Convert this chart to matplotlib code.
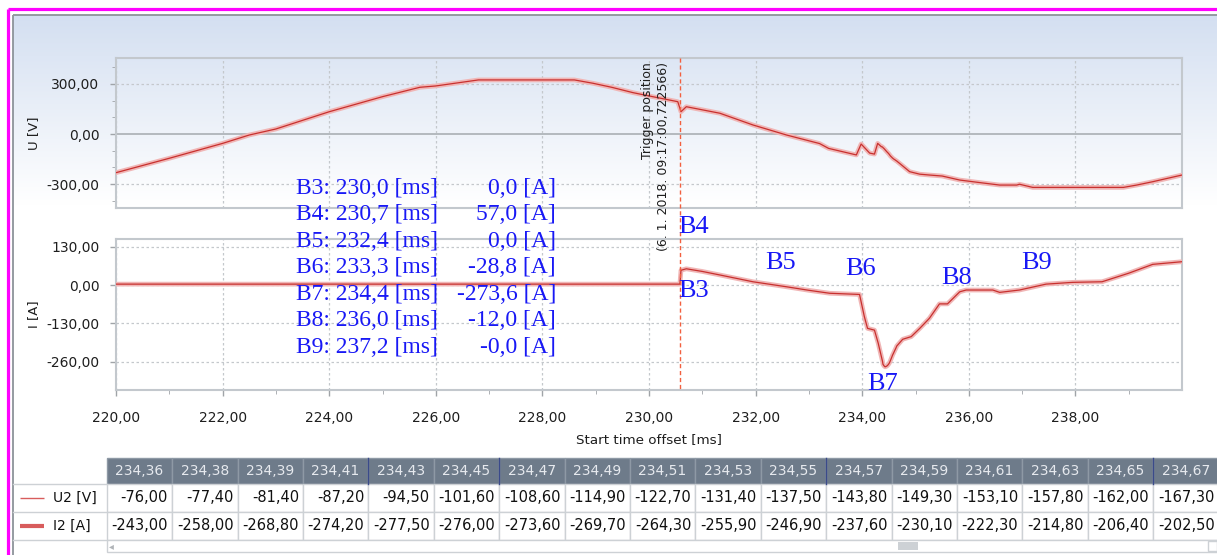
import numpy as np
import matplotlib.pyplot as plt
from matplotlib.ticker import FuncFormatter
from matplotlib.patches import Rectangle

# --- data ---
# table samples (around the current minimum)
table_t = [234.36, 234.38, 234.39, 234.41, 234.43, 234.45, 234.47, 234.49, 234.51,
           234.53, 234.55, 234.57, 234.59, 234.61, 234.63, 234.65, 234.67]
table_u = [-76.00, -77.40, -81.40, -87.20, -94.50, -101.60, -108.60, -114.90, -122.70,
           -131.40, -137.50, -143.80, -149.30, -153.10, -157.80, -162.00, -167.30]
table_i = [-243.00, -258.00, -268.80, -274.20, -277.50, -276.00, -273.60, -269.70, -264.30,
           -255.90, -246.90, -237.60, -230.10, -222.30, -214.80, -206.40, -202.50]

# voltage U2 [V]
u_t_before = [220.0, 221.0, 222.0, 222.5, 223.0, 224.0, 225.0, 225.7, 226.0, 226.8,
              227.5, 228.0, 228.6, 228.95, 229.3, 229.7, 230.07, 230.54, 230.6, 230.7,
              231.33, 231.95, 232.58, 233.2, 233.37, 233.89, 233.98, 234.14, 234.23,
              234.29]
u_v_before = [-231, -145, -56, -6, 30, 133, 223, 279, 287, 323,
              323, 323, 323, 303, 279, 247, 223, 193, 133, 163,
              124, 54, -6, -57, -86, -125, -60, -114, -120,
              -56]
u_t_after = [234.7, 234.89, 235.08, 235.26, 235.5, 235.83, 236.2, 236.58, 236.9, 236.95,
             237.2, 237.6, 238.0, 238.5, 238.9, 239.15, 239.45, 240.0]
u_v_after = [-175, -225, -240, -245, -251, -275, -290, -305, -305, -300,
             -319, -319, -319, -319, -319, -305, -285, -245]

# current I2 [A]
i_t_before = [220.0, 230.58, 230.6, 230.7, 231.0, 231.33, 231.95, 232.58, 233.0, 233.39,
              233.95, 234.04, 234.1, 234.23, 234.3]
i_v_before = [3, 3, 50, 55, 46, 34, 11, -6, -18, -28,
              -32, -107, -147, -153, -197]
i_t_after = [234.76, 234.92, 235.08, 235.26, 235.45, 235.6, 235.83, 235.95, 236.45, 236.58,
             236.95, 237.45, 237.95, 238.5, 239.0, 239.45, 240.0]
i_v_after = [-184, -175, -147, -113, -64, -64, -23, -17, -17, -25,
             -17, 3, 9, 11, 40, 70, 79]

u_t = u_t_before + table_t + u_t_after
u_v = u_v_before + table_u + u_v_after
i_t = i_t_before + table_t + i_t_after
i_v = i_v_before + table_i + i_v_after

trigger_t = 230.58
trigger_text = "(6. 1. 2018. 09:17:00,722566)"

b_names = ['B3', 'B4', 'B5', 'B6', 'B7', 'B8', 'B9']
b_time = [230.0, 230.7, 232.4, 233.3, 234.4, 236.0, 237.2]
b_current = [0.0, 57.0, 0.0, -28.8, -273.6, -12.0, -0.0]

x_ticks = [220, 222, 224, 226, 228, 230, 232, 234, 236, 238]
u_ticks = [-300, 0, 300]
i_ticks = [-260, -130, 0, 130]

# --- figure ---
W, H = 1217, 555
fig = plt.figure(figsize=(W / 100, H / 100), dpi=100, facecolor='white')


def px_box(l, t, r, b):
    return [l / W, 1 - b / H, (r - l) / W, (b - t) / H]


def comma(v, pos=None):
    return f"{v:.2f}".replace('.', ',')


# gradient background
bg = fig.add_axes([0, 0, 1, 1], zorder=-5)
c0 = np.array([0.83, 0.875, 0.945])
frac = np.linspace(0, 1, 200)[:, None, None]
grad = c0 * (1 - frac) + frac
bg.imshow(grad, extent=[13, W, 205, 15], aspect='auto', interpolation='bilinear')
bg.set_xlim(0, W)
bg.set_ylim(H, 0)
bg.axis('off')

ax_u = fig.add_axes(px_box(116, 58, 1182, 208))
ax_i = fig.add_axes(px_box(116, 239, 1182, 390))

grid_kw = dict(color='#c4c8cc', lw=0.9, ls=(0, (2, 2)))

for ax in (ax_u, ax_i):
    ax.set_facecolor('none')
    ax.set_xlim(220, 240)
    for s in ax.spines.values():
        s.set_color('#c3c8cd')
        s.set_linewidth(1.5)
    ax.set_xticks(x_ticks)
    ax.xaxis.grid(True, **grid_kw)
    ax.tick_params(colors='#a0a4a8', labelcolor='#1e1e1e', length=4, width=1)
    ax.xaxis.set_major_formatter(FuncFormatter(comma))
    ax.yaxis.set_major_formatter(FuncFormatter(comma))

ax_u.set_ylim(-442, 454)
ax_u.set_yticks(u_ticks)
ax_u.set_yticks([-400, -200, -100, 100, 200, 400], minor=True)
ax_u.tick_params(axis='y', which='minor', length=3, color='#a0a4a8')
ax_u.tick_params(axis='x', length=0, labelbottom=False)
for v in u_ticks:
    if v == 0:
        ax_u.axhline(0, color='#b4b9be', lw=1.4, zorder=1)
    else:
        ax_u.axhline(v, **grid_kw, zorder=1)

ax_i.set_ylim(-356, 156)
ax_i.set_yticks(i_ticks)
ax_i.yaxis.grid(True, **grid_kw)
ax_i.set_xticks(np.arange(221, 240, 2), minor=True)
ax_i.tick_params(axis='x', which='minor', length=3, color='#a0a4a8')
ax_i.tick_params(axis='x', which='major', pad=11)

for ax in (ax_u, ax_i):
    ax.tick_params(axis='y', pad=8)
    for lab in ax.get_xticklabels() + ax.get_yticklabels():
        lab.set_fontsize(10)
    ax.set_axisbelow(True)

for ax, t, v in ((ax_u, u_t, u_v), (ax_i, i_t, i_v)):
    ax.plot(t, v, color='#f0b6b6', lw=3.4, solid_capstyle='round', zorder=3)
    ax.plot(t, v, color='#c8302e', lw=0.9, zorder=4)

ax_u.set_ylabel('U [V]', fontsize=9.5, color='#1e1e1e')
ax_u.yaxis.set_label_coords(-0.071, 0.5)
ax_i.set_ylabel('I [A]', fontsize=9.5, color='#1e1e1e')
ax_i.yaxis.set_label_coords(-0.071, 0.5)
ax_i.set_xlabel('Start time offset [ms]', fontsize=9.7, color='#1e1e1e', labelpad=6)

# overlay in pixel coordinates
ov = fig.add_axes([0, 0, 1, 1], zorder=10)
ov.set_facecolor('none')
ov.set_xlim(0, W)
ov.set_ylim(H, 0)
ov.axis('off')

# frames
ov.plot([8, 8], [9, H], color='#ff00ff', lw=2.3, solid_capstyle='butt')
ov.plot([8, W], [9, 9], color='#ff00ff', lw=2.3, solid_capstyle='butt')
ov.plot([13, 13], [14.5, H], color='#8c939a', lw=1.3, solid_capstyle='butt')
ov.plot([13, W], [14.5, 14.5], color='#8c939a', lw=1.3, solid_capstyle='butt')

# trigger marker
fig.canvas.draw()
xt = ax_u.transData.transform((trigger_t, 0))[0]
ov.plot([xt, xt], [58, 390], color='#f2603f', lw=1.0, ls=(0, (3, 2)))
ov.text(648, 62, 'Trigger position', rotation=90, ha='center', va='top',
        fontsize=9, color='#1e1e1e')
ov.text(664, 62, trigger_text, rotation=90, ha='center', va='top',
        fontsize=9, color='#1e1e1e')

# marker list
blue = '#1818f5'
for k, (n, t, v) in enumerate(zip(b_names, b_time, b_current)):
    y = 188 + k * 26.6
    ov.text(296, y, f"{n}: {t:.1f} [ms]".replace('.', ','), ha='left', va='center',
            family='Liberation Serif', fontsize=17, color=blue)
    ov.text(556, y, f"{v:.1f} [A]".replace('.', ','), ha='right', va='center',
            family='Liberation Serif', fontsize=17, color=blue)

# marker labels on the curve
label_pos = {'B3': (678, 291), 'B4': (678, 227), 'B5': (765, 263), 'B6': (845, 269),
             'B7': (867, 384), 'B8': (941, 278), 'B9': (1021, 263)}
for n in b_names:
    x, y = label_pos[n]
    ov.text(x, y, n, ha='left', va='center', family='Liberation Serif',
            fontsize=19, color=blue)

# data table
col0, cw = 106.7, 65.4
hy, hh, rh = 458, 26, 28
border = '#cdd1d5'
for k, (t, u, i) in enumerate(zip(table_t, table_u, table_i)):
    x0 = col0 + k * cw
    ov.add_patch(Rectangle((x0, hy), cw, hh, fc='#6e7b8a', ec='#8e99a5', lw=1))
    ov.text(x0 + cw / 2, hy + hh / 2, comma(t), ha='center', va='center',
            fontsize=10, color='#e6e9ee')
    for r, val in enumerate((u, i)):
        ov.add_patch(Rectangle((x0, hy + hh + r * rh), cw, rh, fc='white', ec=border, lw=1))
        ov.text(x0 + cw - 4, hy + hh + r * rh + rh / 2, comma(val), ha='right',
                va='center', fontsize=10.5, color='#101010')
for k in (4, 6, 11, 16):
    xs = col0 + k * cw
    ov.plot([xs, xs], [hy, hy + hh], color='#3a4a8a', lw=1)

for yy in (hy + hh, hy + hh + rh, hy + hh + 2 * rh):
    ov.plot([13, col0], [yy, yy], color=border, lw=1)
row_names = ['U2 [V]', 'I2 [A]']
row_lw = [1.0, 3.0]
for r, (name, lw) in enumerate(zip(row_names, row_lw)):
    yc = hy + hh + r * rh + rh / 2
    ov.plot([20, 44], [yc, yc], color='#d85c5c', lw=lw, solid_capstyle='butt')
    ov.text(53, yc, name, ha='left', va='center', fontsize=10, color='#101010')

# scrollbar
sy = hy + hh + 2 * rh
ov.add_patch(Rectangle((col0, sy), W - col0 + 5, 12, fc='white', ec=border, lw=1))
ov.add_patch(Rectangle((898, sy + 2), 20, 8, fc='#cdd1d5', ec='none'))
ov.text(111, sy + 6, '\u25c2', ha='center', va='center', fontsize=7, color='#b0b4b8')
ov.add_patch(Rectangle((1208, sy + 1), 9, 10, fc='white', ec=border, lw=1))

fig.savefig('out.png', dpi=100, facecolor='white')
